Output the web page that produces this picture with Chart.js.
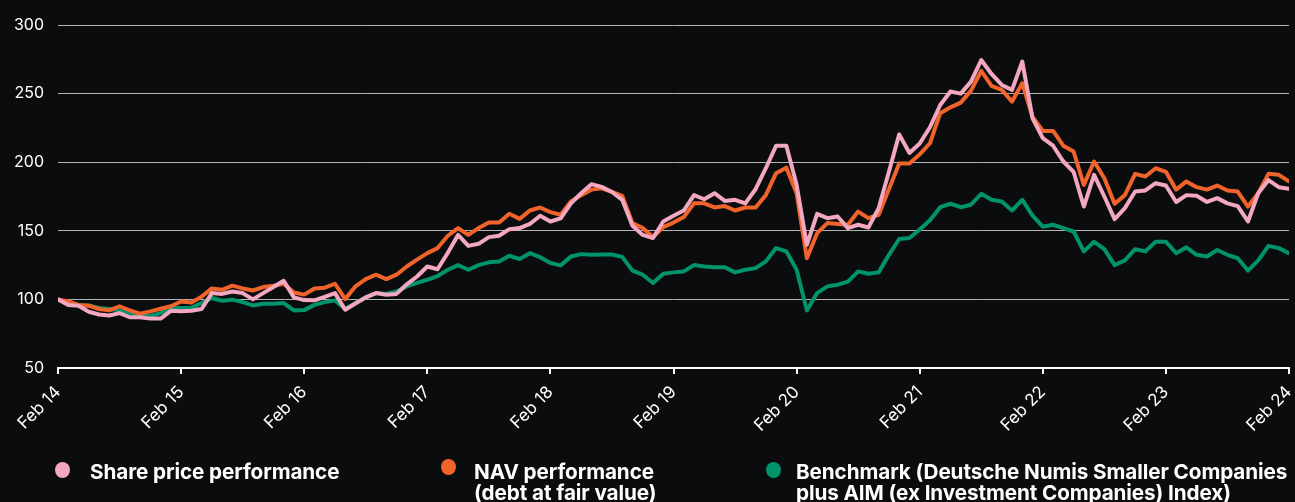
<!DOCTYPE html>
<html>
<head>
<meta charset="utf-8">
<script src="https://cdn.jsdelivr.net/npm/chart.js@4"></script>
<style>
  html, body { margin: 0; padding: 0; background: #0b0c0e; }
  #wrap { position: relative; width: 1295px; height: 502px; background: #0b0c0e; overflow: hidden; }
  #c { position: absolute; left: 0; top: 0; }
  .leg { position: absolute; color: #ffffff; font-family: Inter, "Noto Sans", sans-serif; font-weight: 700; font-size: 20.7px; line-height: 21px; white-space: nowrap; letter-spacing: -0.1px; }
  .dot { position: absolute; width: 15px; height: 16px; border-radius: 50%; }
</style>
</head>
<body>
<div id="wrap">
  <canvas id="c" width="1295" height="502"></canvas>
  <div id="legend"></div>
</div>
<script>
const seriesLabels = [
  "Share price performance",
  "NAV performance\n(debt at fair value)",
  "Benchmark (Deutsche Numis Smaller Companies\nplus AIM (ex Investment Companies) Index)"
];
const seriesColors = ["#f3a7c0", "#f0632a", "#00936c"];
const xTickLabels = ["Feb 14","Feb 15","Feb 16","Feb 17","Feb 18","Feb 19","Feb 20","Feb 21","Feb 22","Feb 23","Feb 24"];
const yTicks = [50, 100, 150, 200, 250, 300];

const sharePrice = [
  100, 96, 95.4, 91, 89, 88.3, 90, 87, 87, 86, 86, 91.7, 91.3, 91.7, 93, 104.6, 104, 105.8, 104.6, 100,
  104.6, 109, 113.6, 101.5, 99.5, 99.3, 101.8, 104.6, 92.5, 97, 101.5, 104.6, 103.4, 104, 111, 116.7, 124, 122, 134, 147,
  139, 140.5, 145.4, 146.4, 151.2, 152, 155, 161, 156.8, 159, 170, 177.4, 184, 182, 178.3, 172.6, 153.6, 147, 144.7, 156.8,
  161, 164.8, 176, 173, 177.4, 171.8, 172.6, 170, 180.3, 195.6, 212, 212, 183.5, 139.8, 162.4, 159.2, 160.4, 152, 154.4, 152.4,
  166.5, 193, 220.3, 206.7, 213.6, 225.5, 241.7, 251.5, 250, 258.7, 274.5, 264.3, 256.3, 252.7, 273.3, 232, 217.5, 212, 200.5, 193,
  167.7, 190.8, 175, 158.5, 166.5, 178.6, 179.4, 184.7, 183, 171, 176, 175.5, 171, 173.8, 170, 168, 156.8, 177.4, 187, 181.8,
  180.6
];
const navPerf = [
  100, 98.5, 96, 95.4, 93, 92, 95, 92, 89.6, 91.3, 93.2, 95, 98.5, 97.8, 102, 108, 107, 110, 108, 106.5,
  109, 110, 111.4, 105, 103.5, 108, 108.5, 111.4, 100.2, 109.5, 114.8, 118, 114.8, 118, 124, 129, 133.7, 137.4, 146.4, 152,
  147, 152, 156, 156, 162.4, 158.7, 164.8, 167, 163.6, 161.7, 171.4, 176, 180, 181, 178.3, 175.5, 155.6, 152, 145.4, 152.7,
  156, 160, 170, 170, 167, 168, 164.8, 167, 167, 176, 192, 196, 177.4, 130, 148.3, 155.6, 155, 154.4, 164, 159.2,
  161.7, 180.3, 199, 199, 205.7, 213.8, 235.7, 240, 243.4, 252.2, 266.5, 255.6, 252.7, 244.2, 257.5, 233, 222.8, 222.8, 212, 207.8,
  183.5, 200.5, 188.3, 169.7, 176, 191.5, 189.6, 195.6, 193, 180, 186, 181.8, 180, 183, 179.4, 178.6, 167.7, 177.4, 191.5, 190.8,
  186
];
const benchmark = [
  100, 98, 96, 95.6, 93.7, 93, 92, 90, 89.3, 88, 90, 93.7, 93.7, 94, 97.3, 101, 99, 99.8, 98, 95.6,
  96.8, 96.8, 97.3, 92, 92.2, 96, 98, 99.3, 93, 97.3, 101.5, 104.6, 104, 105.8, 109.5, 112, 114.3, 117, 121.6, 125,
  121.6, 125, 127, 127.7, 131.8, 129.4, 133.7, 130.8, 126.5, 124.8, 131.3, 133, 132.5, 132.7, 132.7, 131, 121, 118, 112, 118.7,
  119.7, 120.4, 125, 124, 123.5, 123.5, 119.7, 121.6, 122.8, 127.7, 137.4, 135, 121.6, 92, 104.6, 109.5, 110.7, 113, 120.4, 118.7,
  119.7, 132.5, 144, 144.7, 151, 157.7, 167.2, 169.7, 167.2, 169, 177, 172.6, 171.4, 164.8, 172.6, 161, 153, 154.4, 152, 149.5,
  135, 142, 136.6, 125, 128.4, 136.6, 135, 142, 142, 133.7, 138, 132.5, 131.3, 136, 132.5, 130, 121, 128.4, 139, 137.4,
  133.7
];

const allSeries = [sharePrice, navPerf, benchmark];
const monthsPerTick = 12;

const datasets = allSeries.map((vals, s) => ({
  label: seriesLabels[s],
  data: vals.map((v, i) => ({ x: i, y: v })),
  borderColor: seriesColors[s],
  backgroundColor: seriesColors[s],
  borderWidth: 4,
  pointRadius: 0,
  tension: 0,
  borderJoinStyle: 'round',
  borderCapStyle: 'round'
}));

Chart.defaults.font.family = 'Inter, "Noto Sans", sans-serif';

new Chart(document.getElementById('c'), {
  type: 'line',
  data: { datasets },
  options: {
    responsive: false,
    animation: false,
    layout: { padding: { top: 25, right: 6, bottom: 62, left: 0 } },
    plugins: { legend: { display: false }, tooltip: { enabled: false } },
    scales: {
      x: {
        type: 'linear',
        min: 0,
        max: (xTickLabels.length - 1) * monthsPerTick,
        afterFit: (s) => { s.height = 72; s.paddingLeft = 0; s.paddingRight = 0; },
        afterBuildTicks: (s) => { s.ticks = xTickLabels.map((_, k) => ({ value: k * monthsPerTick })); },
        ticks: {
          color: '#ffffff',
          font: { size: 17 },
          maxRotation: 45,
          minRotation: 45,
          padding: 8,
          autoSkip: false,
          callback: (v) => xTickLabels[Math.round(v / monthsPerTick)]
        },
        grid: { drawOnChartArea: false, drawTicks: true, tickLength: 6, color: '#ffffff', lineWidth: 2 },
        border: { display: true, color: '#ffffff', width: 2 }
      },
      y: {
        min: yTicks[0],
        max: yTicks[yTicks.length - 1],
        afterFit: (s) => { s.width = 58; s.paddingTop = 0; s.paddingBottom = 0; },
        afterBuildTicks: (s) => { s.ticks = yTicks.map(v => ({ value: v })); },
        ticks: { color: '#ffffff', font: { size: 16 }, padding: 14 },
        grid: { color: '#b4b4b4', lineWidth: 1, drawTicks: false },
        border: { display: false }
      }
    }
  }
});

// HTML legend built from series labels / colours
const legendPos = [
  { dotX: 55, dotY: 462, textX: 90, textY: 461 },
  { dotX: 441, dotY: 459, textX: 474, textY: 461 },
  { dotX: 766, dotY: 462, textX: 796, textY: 461 }
];
const legendEl = document.getElementById('legend');
seriesLabels.forEach((lab, s) => {
  const p = legendPos[s];
  const dot = document.createElement('div');
  dot.className = 'dot';
  dot.style.left = p.dotX + 'px';
  dot.style.top = p.dotY + 'px';
  dot.style.background = seriesColors[s];
  legendEl.appendChild(dot);
  const t = document.createElement('div');
  t.className = 'leg';
  t.style.left = p.textX + 'px';
  t.style.top = p.textY + 'px';
  t.innerHTML = lab.split('\n').join('<br>');
  legendEl.appendChild(t);
});
</script>
</body>
</html>
